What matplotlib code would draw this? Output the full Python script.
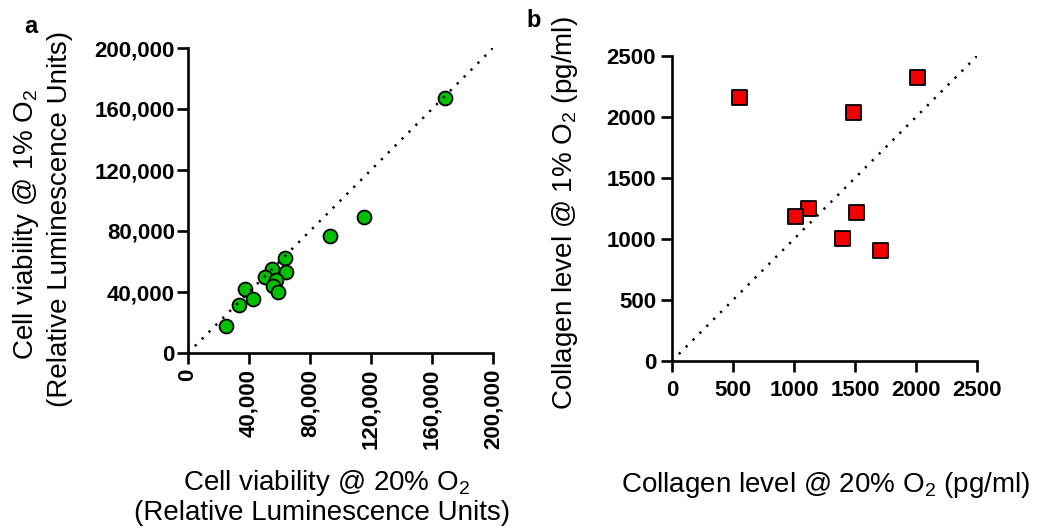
import matplotlib
matplotlib.use("Agg")
import matplotlib.pyplot as plt

plt.rcParams['font.family'] = ['Liberation Sans', 'DejaVu Sans']
plt.rcParams['mathtext.fontset'] = 'custom'
plt.rcParams['mathtext.rm'] = 'Liberation Sans'

# panel a: cell viability (RLU)
via_20 = [168500, 115400, 93100, 63400, 64300, 54900, 50500, 57700, 56000, 59200,
          37600, 42800, 33600, 24700]
via_1 = [167000, 89000, 76900, 62300, 53300, 54900, 50000, 47900, 43900, 39800,
         42200, 35600, 31500, 17700]
via_ticks = [0, 40000, 80000, 120000, 160000, 200000]

# panel b: collagen (pg/ml)
col_20 = [546, 2011, 1484, 1115, 1008, 1505, 1393, 1702]
col_1 = [2161, 2331, 2041, 1257, 1189, 1221, 1008, 910]
col_ticks = [0, 500, 1000, 1500, 2000, 2500]

W, H = 1041, 531
fig = plt.figure(figsize=(W / 100, H / 100), dpi=100)
LAB = 20

def px_axes(left, top, right, bottom):
    return fig.add_axes([left / W, 1 - bottom / H, (right - left) / W, (bottom - top) / H])

def ptext(x, y, s, **kw):
    # text placed at pixel coords measured from top-left
    return fig.text(x / W, 1 - y / H, s, **kw)

def style(ax, xpad, ypad):
    for s in ['top', 'right']:
        ax.spines[s].set_visible(False)
    for s in ['left', 'bottom']:
        ax.spines[s].set_linewidth(1.9)
    ax.tick_params(length=8, width=1.9, labelsize=16)
    ax.tick_params(axis='x', pad=xpad)
    ax.tick_params(axis='y', pad=ypad)
    for lab in ax.get_xticklabels() + ax.get_yticklabels():
        lab.set_fontweight('bold')

# --- panel a
ax1 = px_axes(188, 48, 493, 353)
ax1.scatter(via_20, via_1, s=10**2, c='#00C000', edgecolors='black', linewidths=1.3, zorder=3)
ax1.plot([0, 200000], [0, 200000], color='black', lw=1.8, linestyle=(0, (0.9, 3)), zorder=4)
ax1.set_xlim(0, 200000)
ax1.set_ylim(0, 200000)
ax1.set_xticks(via_ticks)
ax1.set_yticks(via_ticks)
ax1.set_xticklabels([f'{v:,}' for v in via_ticks], rotation=90)
ax1.set_yticklabels([f'{v:,}' for v in via_ticks])
style(ax1, 3.5, 1.5)

ptext(327, 490, 'Cell viability @ 20% O$_\\mathregular{2}$', ha='center', va='baseline', fontsize=LAB)
ptext(322, 520, '(Relative Luminescence Units)', ha='center', va='baseline', fontsize=LAB)
ptext(33, 224, 'Cell viability @ 1% O$_\\mathregular{2}$', ha='center', va='baseline',
      rotation=90, rotation_mode='anchor', fontsize=LAB)
ptext(67, 219, '(Relative Luminescence Units)', ha='center', va='baseline',
      rotation=90, rotation_mode='anchor', fontsize=LAB)
ptext(31, 33, 'a', ha='center', va='baseline', fontsize=17, fontweight='bold')

# --- panel b
ax2 = px_axes(672, 56, 977, 361)
ax2.scatter(col_20, col_1, s=10.8**2, marker='s', c='#F00000', edgecolors='black', linewidths=1.3, zorder=3)
ax2.plot([0, 2500], [0, 2500], color='black', lw=1.8, linestyle=(0, (0.9, 3)), zorder=4)
ax2.set_xlim(0, 2500)
ax2.set_ylim(0, 2500)
ax2.set_xticks(col_ticks)
ax2.set_yticks(col_ticks)
style(ax2, 6, 3.5)

ptext(826, 492, 'Collagen level @ 20% O$_\\mathregular{2}$ (pg/ml)', ha='center', va='baseline', fontsize=LAB)
ptext(572, 213, 'Collagen level @ 1% O$_\\mathregular{2}$ (pg/ml)', ha='center', va='baseline',
      rotation=90, rotation_mode='anchor', fontsize=LAB)
ptext(534, 27, 'b', ha='center', va='baseline', fontsize=17, fontweight='bold')

fig.savefig('out.png', dpi=100)
